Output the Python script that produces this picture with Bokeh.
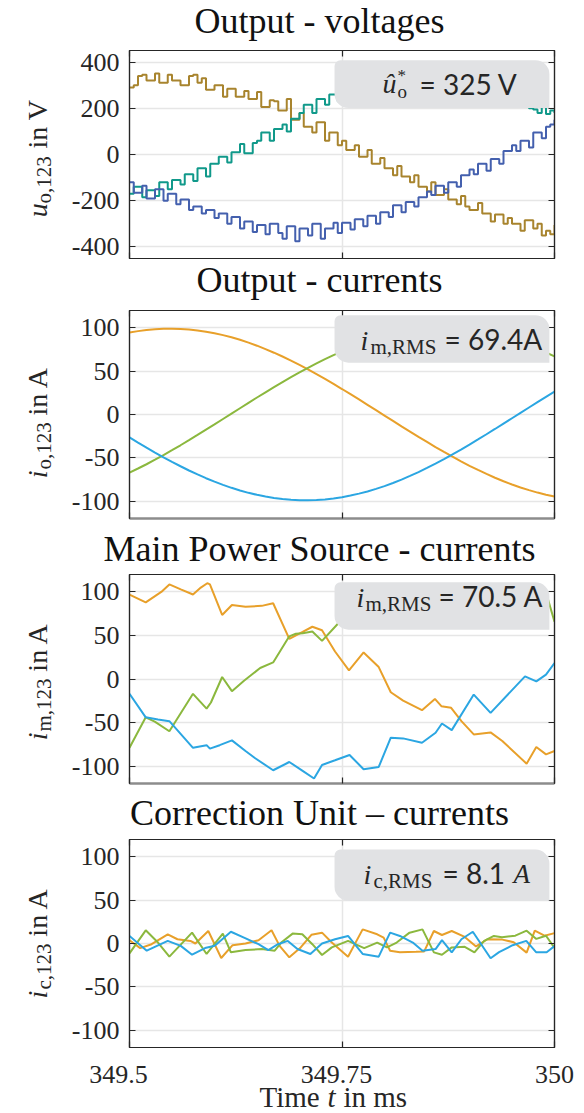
import numpy as np
from bokeh.plotting import figure
from bokeh.models import Range1d, FixedTicker, LinearAxis, Label, BoxAnnotation
from bokeh.layouts import column, row
from bokeh.embed import file_html
from bokeh.resources import INLINE

# ---------------- data ----------------
x_ticks = [349.5, 349.75, 350.0]
x_tick_labels = ["349.5", "349.75", "350"]
volt_ticks = [-400, -200, 0, 200, 400]
cur_ticks = [-100, -50, 0, 50, 100]

# Output voltages (staircase), sampled every 0.005 ms
t_volt = np.linspace(349.5, 350.0, 101)
volt_gold = [290, 300, 340, 345, 320, 320, 350, 310, 310, 345,
             320, 320, 300, 300, 340, 345, 310, 330, 280, 280,
             300, 300, 250, 285, 285, 250, 250, 275, 240, 240,
             270, 205, 205, 235, 230, 190, 190, 240, 150, 150,
             180, 120, 120, 95, 140, 140, 60, 95, 95, 40,
             60, 20, 20, 40, -10, -10, 20, -40, -40, -15,
             -60, -60, -90, -50, -95, -95, -120, -90, -140, -140,
             -160, -120, -175, -175, -150, -195, -195, -215, -180, -225,
             -240, -240, -210, -255, -255, -290, -260, -260, -300, -275,
             -300, -300, -330, -285, -285, -320, -300, -350, -330, -345,
             -305]
volt_teal = [-170, -140, -140, -185, -155, -155, -180, -120, -120, -150,
             -110, -110, -130, -85, -85, -115, -60, -60, -95, -40,
             -40, -10, -10, -35, 10, 10, 45, 5, 5, 50,
             60, 95, 95, 60, 110, 110, 130, 100, 155, 155,
             180, 215, 215, 180, 240, 240, 215, 260, 260, 230,
             265, 285, 285, 270, 300, 300, 280, 315, 315, 300,
             320, 335, 335, 315, 330, 330, 310, 325, 325, 305,
             320, 300, 300, 315, 290, 290, 305, 280, 280, 295,
             270, 270, 290, 260, 260, 275, 245, 245, 265, 240,
             240, 225, 245, 220, 200, 195, 180, 205, 175, 190,
             180]
volt_blue = [-120, -165, -165, -135, -190, -190, -150, -150, -200, -170,
             -170, -215, -195, -195, -240, -225, -225, -255, -240, -240,
             -275, -255, -255, -300, -270, -270, -320, -290, -290, -335,
             -305, -305, -345, -300, -300, -340, -365, -310, -310, -375,
             -320, -320, -350, -300, -300, -365, -320, -320, -295, -340,
             -295, -295, -325, -280, -280, -310, -265, -265, -300, -250,
             -250, -270, -220, -220, -250, -205, -205, -225, -185, -185,
             -160, -175, -135, -135, -165, -120, -120, -140, -90, -90,
             -65, -85, -40, -40, -70, -20, -20, -40, 15, 15,
             40, 15, 60, 60, 30, 95, 95, 70, 120, 130,
             150]

# Output currents, sampled every 0.01 ms
t_out = np.linspace(349.5, 350.0, 51)
iout_orange = [94.5, 96.2, 97.5, 98.4, 98.9, 99.0, 98.7, 98.1, 97.0, 95.6, 93.8, 91.6, 89.1, 86.2,
               82.9, 79.4, 75.5, 71.3, 66.9, 62.2, 57.2, 52.0, 46.6, 41.1, 35.3, 29.4, 23.4, 17.4,
               11.2, 5.0, -1.2, -7.4, -13.6, -19.7, -25.8, -31.7, -37.6, -43.2, -48.7, -54.1, -59.2,
               -64.0, -68.6, -73.0, -77.0, -80.8, -84.2, -87.3, -90.1, -92.5, -94.5]
iout_green = [-67.0, -62.3, -57.4, -52.2, -46.8, -41.2, -35.5, -29.6, -23.6, -17.5, -11.4, -5.2, 1.0,
              7.2, 13.4, 19.6, 25.6, 31.6, 37.4, 43.1, 48.6, 53.9, 59.0, 63.9, 68.5, 72.9, 76.9, 80.7,
              84.1, 87.2, 90.0, 92.4, 94.5, 96.1, 97.4, 98.3, 98.9, 99.0, 98.7, 98.1, 97.0, 95.6, 93.8,
              91.7, 89.1, 86.2, 83.0, 79.5, 75.6, 71.5, 67.0]
iout_blue = [-26.5, -32.4, -38.2, -43.9, -49.4, -54.6, -59.7, -64.6, -69.1, -73.5, -77.5, -81.2, -84.6,
             -87.7, -90.4, -92.7, -94.7, -96.3, -97.6, -98.4, -98.9, -99.0, -98.7, -98.0, -96.9, -95.4,
             -93.5, -91.3, -88.8, -85.8, -82.6, -79.0, -75.1, -70.9, -66.4, -61.6, -56.6, -51.4, -46.0,
             -40.4, -34.7, -28.8, -22.8, -16.7, -10.5, -4.3, 1.9, 8.1, 14.3, 20.4, 26.5]

# Main power source currents
t_main_orange = [349.5000, 349.5191, 349.5374, 349.5469, 349.5603, 349.5747, 349.5839, 349.5915, 349.5946,
                 349.6090, 349.6205, 349.6365, 349.6556, 349.6690, 349.6880, 349.7037, 349.7151, 349.7265,
                 349.7418, 349.7582, 349.7754, 349.7932, 349.8074, 349.8219, 349.8441, 349.8593, 349.8669,
                 349.8784, 349.8905, 349.9050, 349.9248, 349.9386, 349.9672, 349.9786, 349.9900, 350.0000]
imain_orange = [97.0, 88.0, 100.0, 108.6, 103.0, 97.0, 105.0, 110.0, 108.6, 73.5, 85.0, 83.0, 84.0, 87.0,
                46.0, 54.0, 60.0, 56.0, 31.6, 9.9, 30.5, 13.7, -15.2, -24.8, -35.8, -22.9, -31.2, -33.1,
                -48.4, -63.6, -61.3, -71.2, -97.2, -78.1, -86.5, -82.7]
t_main_green = [349.5000, 349.5191, 349.5297, 349.5469, 349.5747, 349.5907, 349.5958, 349.6090, 349.6205,
                349.6347, 349.6537, 349.6690, 349.6880, 349.6957, 349.7037, 349.7151, 349.7265, 349.7457,
                349.7597, 349.7769, 349.7941, 349.8112, 349.8284, 349.8455, 349.8627, 349.8799, 349.8970,
                349.9142, 349.9314, 349.9485, 349.9657, 349.9794, 349.9920, 350.0000]
imain_green = [-79.0, -44.0, -49.0, -60.0, -17.0, -34.0, -27.0, 2.3, -14.0, -2.0, 12.6, 19.0, 49.0, 52.0,
               52.6, 54.5, 43.8, 64.0, 74.0, 82.0, 79.0, 92.0, 88.0, 97.0, 93.0, 101.0, 97.0, 104.0,
               95.0, 101.0, 94.0, 99.0, 92.6, 65.9]
t_main_blue = [349.5000, 349.5191, 349.5335, 349.5469, 349.5747, 349.5907, 349.5946, 349.6061, 349.6205,
               349.6365, 349.6479, 349.6690, 349.6880, 349.7037, 349.7171, 349.7265, 349.7418, 349.7589,
               349.7754, 349.7932, 349.8074, 349.8219, 349.8441, 349.8601, 349.8676, 349.8791, 349.9050,
               349.9248, 349.9653, 349.9786, 349.9900, 350.0000]
imain_blue = [-17.0, -44.0, -46.5, -48.4, -79.0, -76.0, -80.0, -76.0, -70.5, -82.7, -91.0, -104.8, -95.3,
              -105.5, -114.3, -98.7, -93.3, -87.2, -103.6, -101.0, -67.4, -68.2, -73.2, -61.7, -51.1,
              -58.7, -17.9, -38.9, 3.0, -2.7, 5.0, 18.3]

# Correction unit currents
t_corr_orange = [349.5000, 349.5126, 349.5260, 349.5450, 349.5564, 349.5717, 349.5775, 349.5927, 349.6079,
                 349.6213, 349.6365, 349.6518, 349.6671, 349.6766, 349.6880, 349.7014, 349.7140, 349.7265,
                 349.7380, 349.7571, 349.7743, 349.7914, 349.7990, 349.8066, 349.8181, 349.8372, 349.8467,
                 349.8581, 349.8676, 349.8791, 349.8944, 349.9077, 349.9211, 349.9386, 349.9520, 349.9672,
                 349.9768, 349.9882, 350.0000]
icorr_orange = [3.8, -5.3, -0.8, 10.6, 4.9, 3.0, 0.0, 14.4, -16.7, -1.9, 0.0, 3.8, 15.2, -2.7, -15.9, -4.5,
                10.0, 12.5, 1.1, -15.2, 16.3, 10.6, 6.8, -8.3, -10.2, -9.5, -9.1, 14.4, 9.8, 14.4, 7.6,
                -3.4, 4.9, 4.5, 1.5, -10.5, 14.8, 9.0, 12.0]
t_corr_green = [349.5000, 349.5191, 349.5335, 349.5469, 349.5736, 349.5907, 349.6098, 349.6193, 349.6365,
                349.6556, 349.6708, 349.6785, 349.6919, 349.7033, 349.7151, 349.7265, 349.7380, 349.7571,
                349.7761, 349.7914, 349.8029, 349.8143, 349.8295, 349.8447, 349.8581, 349.8676, 349.8791,
                349.8944, 349.9058, 349.9173, 349.9287, 349.9382, 349.9539, 349.9672, 349.9786, 349.9900,
                350.0000]
icorr_green = [-11.4, 15.2, 1.1, -15.2, 12.5, -12.1, 11.4, -10.2, -7.6, -6.4, -8.3, 1.1, 11.4, 10.6, -0.8,
               -13.3, -4.5, 3.0, -5.3, 1.1, -4.5, 1.1, 12.5, 16.3, -10.2, -12.9, -4.5, -3.8, -10.2, 3.0,
               8.7, 7.2, 9.0, 14.8, 5.3, 9.0, -5.0]
t_corr_blue = [349.5000, 349.5203, 349.5450, 349.5603, 349.5736, 349.5889, 349.6003, 349.6193, 349.6347,
               349.6518, 349.6633, 349.6747, 349.6862, 349.6976, 349.7128, 349.7265, 349.7418, 349.7571,
               349.7743, 349.7932, 349.8066, 349.8181, 349.8333, 349.8447, 349.8601, 349.8676, 349.8791,
               349.8905, 349.9039, 349.9248, 349.9348, 349.9508, 349.9668, 349.9783, 349.9908, 350.0000]
icorr_blue = [8.7, -8.3, 3.0, -2.7, -12.9, -5.3, -2.7, 13.6, 6.8, -0.8, -7.6, -0.8, 3.0, -6.4, -12.1, 0.0,
              4.9, 8.7, -12.1, -15.2, 12.5, 8.7, 1.1, -8.3, -6.4, 3.8, -10.2, 4.9, 13.6, -17.0, -10.0,
              -2.0, 3.0, -10.0, -10.0, -3.0]

# ---------------- style ----------------
SERIF = "Liberation Serif"
SANS = "Lato"
SHIFT = {SERIF: 0.3375, SANS: 0.387}   # (ascent - descent) / 2, in em
INK = "#262626"
GRID = "#E6E6E6"
BOXC = "#E1E2E4"
C_GOLD, C_TEAL, C_VBLUE = "#A8842E", "#10998A", "#4460AE"
C_OR, C_GR, C_BL = "#E8A02A", "#8BB83E", "#2BA6E2"
X0, X1 = 349.5, 350.0
W_LEFT, W_MAIN = 68, 516
W_ALL = W_LEFT + W_MAIN
ROT = np.pi / 2


def style_axis(ax, ticks, labels, show):
    ax.ticker = FixedTicker(ticks=ticks)
    ax.major_tick_in = 6
    ax.major_tick_out = 0
    ax.minor_tick_line_color = None
    ax.major_tick_line_color = INK
    ax.major_tick_line_width = 1.2
    ax.axis_line_color = INK
    ax.axis_line_width = 1.2
    ax.major_label_text_font = SERIF
    ax.major_label_text_color = INK
    if show:
        ax.major_label_overrides = {t: l for t, l in zip(ticks, labels)}
        ax.major_label_text_font_size = "26px"
    else:
        ax.major_label_overrides = {t: "" for t in ticks}
        ax.major_label_text_font_size = "1px"
        ax.major_label_standoff = 0


def lab(p, x, y, text, size, font=SERIF, style="normal", align="left", rotated=False,
        color=INK, xo=0, yo=0):
    """Place text so that its baseline sits at the given position (label is centre-anchored)."""
    s = SHIFT[font] * size
    if rotated:
        xo = xo - s
    else:
        yo = yo + s
    p.add_layout(Label(x=x, y=y, x_offset=xo, y_offset=yo, text=text, text_font=font,
                       text_font_size=f"{size}px", text_font_style=style, text_align=align,
                       text_baseline="middle", angle=ROT if rotated else 0.0, text_color=color))


def helper(width, height):
    h = figure(width=width, height=height, x_range=Range1d(0, width), y_range=Range1d(0, height),
               output_backend="svg", toolbar_location=None, title=None,
               x_axis_type=None, y_axis_type=None,
               min_border=0, min_border_left=0, min_border_right=0,
               min_border_top=0, min_border_bottom=0)
    h.outline_line_color = None
    h.background_fill_color = "white"
    h.border_fill_color = "white"
    return h


def make_fig(height, ymin, ymax, yticks, bottom_color=INK, bottom_width=1.2):
    p = figure(width=W_MAIN, height=height, x_range=Range1d(X0, X1), y_range=Range1d(ymin, ymax),
               output_backend="svg", toolbar_location=None, title=None,
               min_border_left=50, min_border_right=30, min_border_top=2, min_border_bottom=2)
    p.outline_line_color = INK
    p.outline_line_width = 1.2
    p.background_fill_color = "white"
    p.border_fill_color = "white"
    ylabels = [str(v) for v in yticks]
    style_axis(p.yaxis[0], yticks, ylabels, True)
    p.yaxis[0].major_label_standoff = 10
    style_axis(p.xaxis[0], x_ticks, x_tick_labels, False)
    p.xaxis[0].axis_line_color = bottom_color
    p.xaxis[0].axis_line_width = bottom_width
    ra = LinearAxis()
    style_axis(ra, yticks, ylabels, False)
    p.add_layout(ra, "right")
    ta = LinearAxis()
    style_axis(ta, x_ticks, x_tick_labels, False)
    p.add_layout(ta, "above")
    p.xgrid.ticker = FixedTicker(ticks=[349.75])
    p.ygrid.ticker = FixedTicker(ticks=yticks)
    p.xgrid.grid_line_color = GRID
    p.ygrid.grid_line_color = GRID
    p.xgrid.grid_line_width = 1.5
    p.ygrid.grid_line_width = 1.5
    return p


def add_box(p, bottom, top):
    p.add_layout(BoxAnnotation(left=349.7412, right=349.9940, bottom=bottom, top=top,
                               fill_color=BOXC, fill_alpha=1.0, line_alpha=0.0,
                               border_radius=dict(top_left=6, top_right=14, bottom_right=0, bottom_left=14)))


def title_fig(height, text, baseline):
    t = helper(W_ALL, height)
    lab(t, 319, baseline, text, 36, align="center", color="#111111")
    return t


def ylabel_fig(height, var, sub, rest, y_var, y_sub, y_rest):
    f = helper(W_LEFT, height)
    lab(f, 46, y_var, var, 28, style="italic", rotated=True)
    lab(f, 51, y_sub, sub, 21, rotated=True)
    lab(f, 46, y_rest, rest, 28, rotated=True)
    return f


# ---- panel 1: output voltages ----
t1 = title_fig(48, "Output - voltages", 15.5)
p1 = make_fig(212, -450, 450, volt_ticks)
p1.step(t_volt, volt_gold, mode="after", line_color=C_GOLD, line_width=2)
p1.step(t_volt, volt_teal, mode="after", line_color=C_TEAL, line_width=2)
p1.step(t_volt, volt_blue, mode="after", line_color=C_VBLUE, line_width=2)
add_box(p1, 201, 408)
lab(p1, X0, -450, "û", 28, style="italic", xo=253, yo=166)
lab(p1, X0, -450, "*", 17, xo=268, yo=177)
lab(p1, X0, -450, "o", 19, xo=268, yo=161)
lab(p1, X0, -450, "= 325 V", 28, font=SANS, xo=290, yo=164)
l1 = ylabel_fig(212, "u", "o,123", "in V", 42, 56, 112)

# ---- panel 2: output currents ----
t2 = title_fig(48, "Output - currents", 16)
p2 = make_fig(212, -120, 120, cur_ticks, "#8C8C8C", 2.5)
p2.line(t_out, iout_orange, line_color=C_OR, line_width=2)
p2.line(t_out, iout_green, line_color=C_GR, line_width=2)
p2.line(t_out, iout_blue, line_color=C_BL, line_width=2)
add_box(p2, 59.8, 114.5)
lab(p2, X0, -120, "i", 28, style="italic", xo=231, yo=169)
lab(p2, X0, -120, "m,RMS", 21, xo=241, yo=164)
lab(p2, X0, -120, "= 69.4A", 28, font=SANS, xo=315, yo=169)
l2 = ylabel_fig(212, "i", "o,123", "in A", 41, 50, 105)

# ---- panel 3: main power source currents ----
t3 = title_fig(52, "Main Power Source - currents", 11)
p3 = make_fig(213, -120, 120, cur_ticks, "#8C8C8C", 2.5)
p3.line(t_main_orange, imain_orange, line_color=C_OR, line_width=2)
p3.line(t_main_green, imain_green, line_color=C_GR, line_width=2)
p3.line(t_main_blue, imain_blue, line_color=C_BL, line_width=2)
add_box(p3, 56.6, 111)
lab(p3, X0, -120, "i", 28, style="italic", xo=227, yo=177)
lab(p3, X0, -120, "m,RMS", 21, xo=236, yo=172)
lab(p3, X0, -120, "= 70.5 A", 28, font=SANS, xo=309, yo=177)
l3 = ylabel_fig(213, "i", "m,123", "in A", 44, 53, 114)

# ---- panel 4: correction unit currents ----
t4 = title_fig(52, "Correction Unit \u2013 currents", 12)
p4 = make_fig(212, -120, 120, cur_ticks)
p4.line(t_corr_orange, icorr_orange, line_color=C_OR, line_width=2)
p4.line(t_corr_green, icorr_green, line_color=C_GR, line_width=2)
p4.line(t_corr_blue, icorr_blue, line_color=C_BL, line_width=2)
add_box(p4, 49.3, 108.4)
lab(p4, X0, -120, "i", 28, style="italic", xo=234, yo=164)
lab(p4, X0, -120, "c,RMS", 21, xo=244, yo=159)
lab(p4, X0, -120, "= 8.1", 28, font=SANS, xo=313, yo=164)
lab(p4, X0, -120, "A", 27, style="italic", xo=384, yo=164)
l4 = ylabel_fig(212, "i", "c,123", "in A", 50, 59, 113)

# ---- bottom: x tick labels and x-axis title ----
xf = helper(W_ALL, 64)
for px, txt in zip([118, 336, 554], x_tick_labels):
    lab(xf, px, 30, txt, 26, align="center")
lab(xf, 259, 7, "Time", 29)
lab(xf, 327, 7, "t", 29, style="italic")
lab(xf, 343, 7, "in ms", 29)

layout = column(t1, row(l1, p1, spacing=0), t2, row(l2, p2, spacing=0),
                t3, row(l3, p3, spacing=0), t4, row(l4, p4, spacing=0), xf, spacing=0)
open("out.html", "w").write(file_html(layout, INLINE))
